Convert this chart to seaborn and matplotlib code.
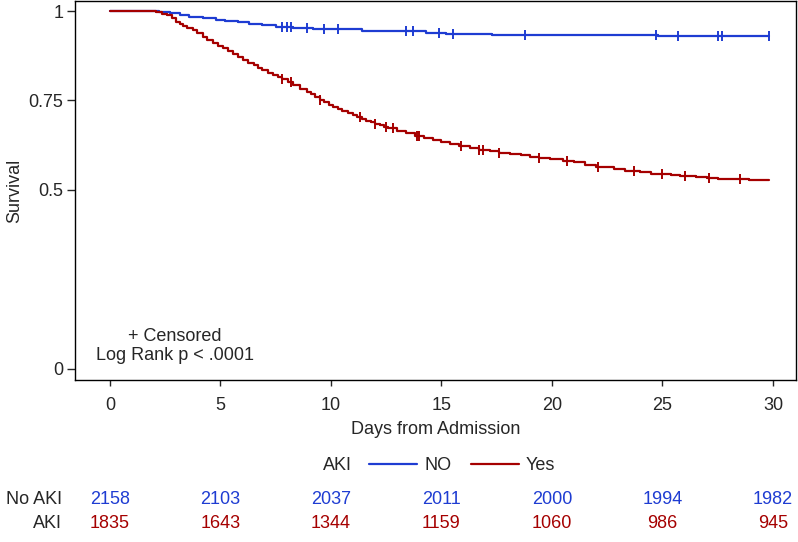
import numpy as np
import pandas as pd
import matplotlib
matplotlib.use("Agg")
import matplotlib.pyplot as plt
import matplotlib.transforms as mtransforms
from matplotlib.lines import Line2D
import seaborn as sns

# Kaplan-Meier step values (day, survival)
no_aki_days = [0, 2.2, 2.7, 3.15, 3.6, 4.2, 4.8, 5.2, 5.8, 6.3, 6.9, 7.5, 8.3, 9.2,
               11.4, 14.3, 15.2, 17.3, 24.8, 29.8]
no_aki_surv = [1.0, 0.997, 0.994, 0.989, 0.984, 0.980, 0.975, 0.972, 0.968, 0.964,
               0.960, 0.956, 0.953, 0.950, 0.944, 0.938, 0.936, 0.932, 0.929, 0.929]
no_aki_censored = [7.8, 8.0, 8.2, 8.9, 9.7, 10.3, 13.4, 13.7, 14.9, 15.5, 18.8,
                   24.7, 25.7, 27.5, 27.7, 29.8]

aki_days = [0, 2.1, 2.35, 2.6, 2.8, 3.0, 3.15, 3.3, 3.5, 3.75, 3.95, 4.2, 4.4,
            4.66, 4.9, 5.1, 5.35, 5.57, 5.8, 6.0, 6.25, 6.5, 6.7, 6.9, 7.15, 7.4,
            7.6, 7.8, 8.05, 8.3, 8.6, 8.9, 9.1, 9.3, 9.5, 9.7, 9.9, 10.1, 10.3,
            10.5, 10.75, 11.0, 11.2, 11.4, 11.6, 11.8, 12.0, 12.2, 12.4, 12.6,
            13.0, 13.4, 13.8, 14.2, 14.6, 15.0, 15.4, 15.8, 16.3, 16.7, 17.2, 17.6,
            18.1, 18.6, 19.0, 19.4, 19.9, 20.5, 21.0, 21.5, 22.0, 22.8, 23.3, 24.0,
            24.5, 25.4, 25.8, 26.5, 27.0, 27.5, 28.9, 29.8]
aki_surv = [1.0, 0.997, 0.993, 0.989, 0.980, 0.970, 0.965, 0.959, 0.953, 0.947,
            0.938, 0.928, 0.919, 0.910, 0.903, 0.896, 0.887, 0.879, 0.871, 0.863,
            0.856, 0.849, 0.842, 0.835, 0.828, 0.821, 0.815, 0.810, 0.801, 0.793,
            0.783, 0.775, 0.768, 0.760, 0.752, 0.745, 0.738, 0.731, 0.726, 0.721,
            0.716, 0.709, 0.704, 0.699, 0.694, 0.689, 0.685, 0.681, 0.677, 0.673,
            0.665, 0.658, 0.651, 0.645, 0.640, 0.634, 0.628, 0.622, 0.616, 0.613,
            0.608, 0.603, 0.600, 0.597, 0.593, 0.589, 0.586, 0.582, 0.577, 0.570,
            0.565, 0.559, 0.553, 0.549, 0.546, 0.543, 0.540, 0.537, 0.534, 0.532,
            0.528, 0.528]
aki_censored = [7.8, 8.2, 9.5, 11.3, 12.0, 12.5, 12.8, 13.9, 14.0, 15.9, 16.7,
                16.9, 17.6, 19.4, 20.7, 22.1, 23.7, 25.0, 26.0, 27.1, 28.5]

# number at risk table
risk_days = [0, 5, 10, 15, 20, 25, 30]
risk_no_aki = [2158, 2103, 2037, 2011, 2000, 1994, 1982]
risk_aki = [1835, 1643, 1344, 1159, 1060, 986, 945]

group_labels = ["NO", "Yes"]
colors = {"NO": "#1E3CD2", "Yes": "#A50000"}
y_ticks = [0, 0.5, 0.75, 1]

sns.set_style("white")
plt.rcParams["font.family"] = ["Liberation Sans", "DejaVu Sans"]
FS = 13

df = pd.concat([
    pd.DataFrame({"day": no_aki_days, "surv": no_aki_surv, "AKI": "NO"}),
    pd.DataFrame({"day": aki_days, "surv": aki_surv, "AKI": "Yes"}),
])

fig = plt.figure(figsize=(7.98, 5.42), dpi=100)
ax = fig.add_axes([75 / 798, 1 - 380 / 542, (796 - 75) / 798, (380 - 1) / 542])

sns.lineplot(data=df, x="day", y="surv", hue="AKI", palette=colors,
             drawstyle="steps-post", linewidth=1.6, legend=False, ax=ax,
             estimator=None)


def surv_at(t, days, surv):
    i = np.searchsorted(days, t, side="right") - 1
    return surv[i]


# censoring ticks
for grp, days, surv, cens in [("NO", no_aki_days, no_aki_surv, no_aki_censored),
                              ("Yes", aki_days, aki_surv, aki_censored)]:
    cy = [surv_at(t, days, surv) for t in cens]
    ax.plot(cens, cy, linestyle="none", marker="|", markersize=6.5,
            markeredgewidth=1.4, color=colors[grp])

ax.set_xlim(-1.58, 31.04)
ax.set_ylim(-0.031, 1.028)
ax.set_xticks(risk_days)
ax.set_yticks(y_ticks)
ax.set_yticklabels(["0", "0.5", "0.75", "1"])
ax.tick_params(axis="x", direction="out", length=4.5, width=1, pad=8,
               labelsize=FS, bottom=True)
ax.tick_params(axis="y", direction="out", length=5.5, width=1, pad=3,
               labelsize=FS, left=True)
for sp in ax.spines.values():
    sp.set_color("black")
    sp.set_linewidth(1)
ax.set_xlabel("Days from Admission", fontsize=FS, labelpad=5)
ax.set_ylabel("Survival", fontsize=FS, labelpad=4)

ax.text(0.139, 0.09, "+ Censored\nLog Rank p < .0001", transform=ax.transAxes,
        ha="center", va="center", fontsize=FS, linespacing=1.15)

# legend
handles = [Line2D([], [], color=colors[g], linewidth=1.6) for g in group_labels]
fig.text(352 / 798, 1 - 466 / 542, "AKI", ha="right", va="center", fontsize=FS)
fig.legend(handles, group_labels, loc="center left",
           bbox_to_anchor=(369 / 798, 1 - 466 / 542), ncol=2, frameon=False,
           fontsize=FS, handlelength=2.65, handletextpad=0.4, columnspacing=1.1,
           borderpad=0, borderaxespad=0)

# number at risk
trans = mtransforms.blended_transform_factory(ax.transData, fig.transFigure)
for row_label, counts, col, ypx in [("No AKI", risk_no_aki, colors["NO"], 500),
                                    ("AKI", risk_aki, colors["Yes"], 524)]:
    fig.text(62 / 798, 1 - ypx / 542, row_label, ha="right", va="center",
             fontsize=FS)
    for d, n in zip(risk_days, counts):
        ax.text(d, 1 - ypx / 542, str(n), transform=trans, ha="center",
                va="center", fontsize=FS, color=col)

fig.savefig("out.png", dpi=100)
